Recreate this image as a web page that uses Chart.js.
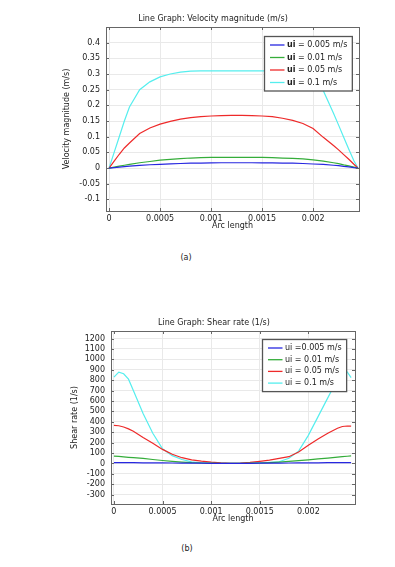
<!DOCTYPE html>
<html>
<head>
<meta charset="utf-8">
<script src="https://cdn.jsdelivr.net/npm/chart.js@4.4.1/dist/chart.umd.min.js"></script>
<style>
  html, body { margin: 0; padding: 0; background: #fff; }
  body { width: 395px; height: 567px; position: relative; overflow: hidden; font-family: 'DejaVu Sans', sans-serif; }
  canvas { position: absolute; left: 0; }
  #velocityChart { top: 0; }
  #shearChart { top: 290px; }
  .caption { position: absolute; font-size: 8px; color: #222; transform: translate(-50%, -50%); }
</style>
</head>
<body>
<canvas id="velocityChart" width="395" height="240"></canvas>
<div class="caption" style="left:186px;top:257px">(a)</div>
<canvas id="shearChart" width="395" height="240"></canvas>
<div class="caption" style="left:187px;top:548px">(b)</div>

<script>
// ---- data ----
const arcLength = [0, 0.00005, 0.0001, 0.00015, 0.0002, 0.0003, 0.0004, 0.0005, 0.0006, 0.0007,
  0.0008, 0.0009, 0.001, 0.0011, 0.0012, 0.0013, 0.0014, 0.0015, 0.0016, 0.0017,
  0.0018, 0.0019, 0.002, 0.0021, 0.0022, 0.00225, 0.0023, 0.00235, 0.0024, 0.00244];

// velocity magnitude (m/s)
const vel005 = [0, 0.0015, 0.003, 0.0045, 0.006, 0.0085, 0.0105, 0.012, 0.0135, 0.0145,
  0.0155, 0.016, 0.0165, 0.017, 0.017, 0.017, 0.017, 0.0165, 0.0165, 0.016,
  0.0155, 0.0145, 0.013, 0.0115, 0.009, 0.0075, 0.0055, 0.004, 0.0015, 0];
const vel01 = [0, 0.003, 0.006, 0.009, 0.012, 0.017, 0.021, 0.025, 0.028, 0.030,
  0.032, 0.033, 0.034, 0.034, 0.034, 0.034, 0.034, 0.034, 0.033, 0.032,
  0.031, 0.029, 0.026, 0.022, 0.017, 0.014, 0.010, 0.007, 0.003, 0];
const vel05 = [0, 0.022, 0.044, 0.064, 0.08, 0.11, 0.128, 0.14, 0.149, 0.156,
  0.161, 0.164, 0.166, 0.167, 0.168, 0.168, 0.167, 0.166, 0.164, 0.159,
  0.152, 0.142, 0.126, 0.098, 0.072, 0.058, 0.043, 0.028, 0.012, 0];
const vel1 = [0, 0.05, 0.1, 0.15, 0.195, 0.25, 0.275, 0.291, 0.3, 0.306,
  0.309, 0.31, 0.31, 0.31, 0.31, 0.31, 0.31, 0.31, 0.31, 0.306,
  0.298, 0.285, 0.268, 0.247, 0.175, 0.137, 0.098, 0.06, 0.023, 0];

// shear rate (1/s)
const shear005 = [8, 8, 7.5, 7, 7, 6, 5.5, 5, 4, 3.5,
  2.5, 2, 1, 0.5, 0, 0.5, 1, 2, 2.5, 3.5,
  4, 5, 5.5, 6, 7, 7, 7.5, 8, 8, 8];
const shear01 = [70, 67, 63, 59, 55, 48, 38, 28, 20, 13,
  7, 4, 2, 0.5, 0, 0.5, 2, 4, 8, 13,
  20, 27, 35, 43, 51, 56, 61, 65, 69, 72];
const shear05 = [365, 362, 350, 332, 310, 250, 195, 135, 88, 55,
  35, 22, 12, 5, 1, 3, 10, 20, 32, 48,
  65, 110, 175, 235, 290, 315, 338, 355, 360, 358];
const shear1 = [830, 878, 862, 810, 700, 480, 290, 140, 75, 38,
  15, 6, 2, 0, 0, 0, 2, 6, 10, 16,
  50, 118, 270, 450, 630, 720, 800, 860, 880, 825];

// ticks / labels
const arcTicks = [0, 0.0005, 0.001, 0.0015, 0.002];
const arcTickLabels = ['0', '0.0005', '0.001', '0.0015', '0.002'];
const velTicks = [-0.1, -0.05, 0, 0.05, 0.1, 0.15, 0.2, 0.25, 0.3, 0.35, 0.4];
const velTickLabels = ['-0.1', '-0.05', '0', '0.05', '0.1', '0.15', '0.2', '0.25', '0.3', '0.35', '0.4'];
const shearTicks = [-300, -200, -100, 0, 100, 200, 300, 400, 500, 600, 700, 800, 900, 1000, 1100, 1200];
const shearTickLabels = ['-300', '-200', '-100', '0', '100', '200', '300', '400', '500', '600', '700', '800', '900', '1000', '1100', '1200'];

const velLegend = ['ui = 0.005 m/s', 'ui = 0.01 m/s', 'ui = 0.05 m/s', 'ui = 0.1 m/s'];
const shearLegend = ['ui =0.005 m/s', 'ui = 0.01 m/s', 'ui = 0.05 m/s', 'ui = 0.1 m/s'];
const lineColors = ['#2727e0', '#35ad3a', '#ee2a2a', '#55eeee'];

Chart.defaults.font.family = "'DejaVu Sans', sans-serif";
Chart.defaults.font.size = 8;
Chart.defaults.color = '#222';

// frame + inner ticks + title + boxed legend (COMSOL look)
const comsolFrame = {
  id: 'comsolFrame',
  afterDatasetsDraw(chart, args, opts) {
    const { ctx, chartArea: a, scales } = chart;
    ctx.save();

    // inner tick marks on all four sides
    ctx.strokeStyle = '#666';
    ctx.lineWidth = 1;
    ctx.beginPath();
    scales.x.ticks.forEach((t, i) => {
      const px = Math.round(scales.x.getPixelForTick(i)) + 0.5;
      ctx.moveTo(px, a.top); ctx.lineTo(px, a.top + 3);
      ctx.moveTo(px, a.bottom); ctx.lineTo(px, a.bottom - 3);
    });
    scales.y.ticks.forEach((t, i) => {
      const py = Math.round(scales.y.getPixelForTick(i)) + 0.5;
      ctx.moveTo(a.left, py); ctx.lineTo(a.left + 3, py);
      ctx.moveTo(a.right, py); ctx.lineTo(a.right - 3, py);
    });
    ctx.stroke();
    ctx.strokeRect(Math.round(a.left) + 0.5, Math.round(a.top) + 0.5,
      Math.round(a.right - a.left), Math.round(a.bottom - a.top));

    // title
    ctx.fillStyle = '#222';
    ctx.font = "8px 'DejaVu Sans'";
    ctx.textAlign = 'center';
    ctx.textBaseline = 'middle';
    ctx.fillText(opts.title, opts.titleX, opts.titleY);

    // legend box
    const labels = chart.data.datasets.map(d => d.label);
    const bold = "bold 8px 'DejaVu Sans'";
    const normal = "8px 'DejaVu Sans'";
    let textW = 0;
    labels.forEach(l => {
      let w;
      if (opts.boldPrefix && l.startsWith(opts.boldPrefix)) {
        ctx.font = bold; w = ctx.measureText(opts.boldPrefix).width;
        ctx.font = normal; w += ctx.measureText(l.slice(opts.boldPrefix.length)).width;
      } else {
        ctx.font = normal; w = ctx.measureText(l).width;
      }
      textW = Math.max(textW, w);
    });
    const boxW = 5.5 + 14.5 + 2.5 + textW + 5;
    const boxH = opts.rowTop * 2 + opts.rowH * (labels.length - 1);
    const bx = Math.round(a.right - opts.insetRight - boxW) + 0.5;
    const by = Math.round(a.top + opts.insetTop) + 0.5;
    ctx.fillStyle = '#fff';
    ctx.fillRect(bx, by, boxW, boxH);
    ctx.strokeStyle = '#555';
    ctx.lineWidth = 1.3;
    ctx.strokeRect(bx, by, boxW, boxH);

    ctx.textAlign = 'left';
    labels.forEach((l, i) => {
      const y = by + opts.rowTop + i * opts.rowH;
      ctx.strokeStyle = chart.data.datasets[i].borderColor;
      ctx.lineWidth = 1.3;
      ctx.beginPath();
      ctx.moveTo(bx + 5.5, y); ctx.lineTo(bx + 20, y);
      ctx.stroke();
      ctx.fillStyle = '#222';
      let tx = bx + 22.5;
      if (opts.boldPrefix && l.startsWith(opts.boldPrefix)) {
        ctx.font = bold;
        ctx.fillText(opts.boldPrefix, tx, y);
        tx += ctx.measureText(opts.boldPrefix).width;
        ctx.font = normal;
        ctx.fillText(l.slice(opts.boldPrefix.length), tx, y);
      } else {
        ctx.font = normal;
        ctx.fillText(l, tx, y);
      }
    });
    ctx.restore();
  }
};

function makeDatasets(series, labels) {
  return series.map((s, i) => ({
    label: labels[i],
    data: arcLength.map((x, j) => ({ x: x, y: s[j] })),
    borderColor: lineColors[i],
    borderWidth: 1.2,
    pointRadius: 0,
    tension: 0,
    fill: false
  }));
}

function makeChart(id, cfg) {
  return new Chart(document.getElementById(id), {
    type: 'line',
    data: { datasets: makeDatasets(cfg.series, cfg.legend) },
    options: {
      responsive: false,
      devicePixelRatio: 1,
      animation: false,
      layout: { padding: cfg.padding },
      plugins: {
        legend: { display: false },
        tooltip: { enabled: false },
        comsolFrame: cfg.frame
      },
      scales: {
        x: {
          type: 'linear',
          min: cfg.xMin,
          max: cfg.xMax,
          afterBuildTicks: s => { s.ticks = arcTicks.map(v => ({ value: v })); },
          afterFit: s => { s.height = 20; },
          ticks: { padding: 3, maxRotation: 0, autoSkip: false, callback: (v, i) => arcTickLabels[i] },
          grid: { color: '#e9e9e9', drawTicks: false },
          border: { display: false },
          title: { display: true, text: 'Arc length', padding: { top: 0, bottom: 0 } }
        },
        y: {
          min: cfg.yMin,
          max: cfg.yMax,
          afterBuildTicks: s => { s.ticks = cfg.yTicks.map(v => ({ value: v })); },
          afterFit: s => { s.width = cfg.yWidth; },
          ticks: { padding: 6, autoSkip: false, callback: (v, i) => cfg.yTickLabels[i] },
          grid: { color: '#e9e9e9', drawTicks: false },
          border: { display: false },
          title: { display: true, text: cfg.yTitle, padding: { top: 4, bottom: 0 } }
        }
      }
    },
    plugins: [comsolFrame]
  });
}

makeChart('velocityChart', {
  series: [vel005, vel01, vel05, vel1],
  legend: velLegend,
  padding: { left: 58, right: 36, top: 27, bottom: 9 },
  xMin: -0.00003, xMax: 0.00245,
  yMin: -0.137, yMax: 0.45,
  yTicks: velTicks, yTickLabels: velTickLabels,
  yWidth: 48,
  yTitle: 'Velocity magnitude (m/s)',
  frame: { title: 'Line Graph: Velocity magnitude (m/s)', titleX: 213, titleY: 19,
    insetRight: 7, insetTop: 9, rowTop: 8.5, rowH: 12.5, boldPrefix: 'ui' }
});

makeChart('shearChart', {
  series: [shear005, shear01, shear05, shear1],
  legend: shearLegend,
  padding: { left: 66, right: 40, top: 41, bottom: 6 },
  xMin: -0.00003, xMax: 0.00248,
  yMin: -390, yMax: 1273,
  yTicks: shearTicks, yTickLabels: shearTickLabels,
  yWidth: 45,
  yTitle: 'Shear rate (1/s)',
  frame: { title: 'Line Graph: Shear rate (1/s)', titleX: 214, titleY: 33,
    insetRight: 9, insetTop: 7.5, rowTop: 8.5, rowH: 11.7, boldPrefix: '' }
});
</script>
</body>
</html>
